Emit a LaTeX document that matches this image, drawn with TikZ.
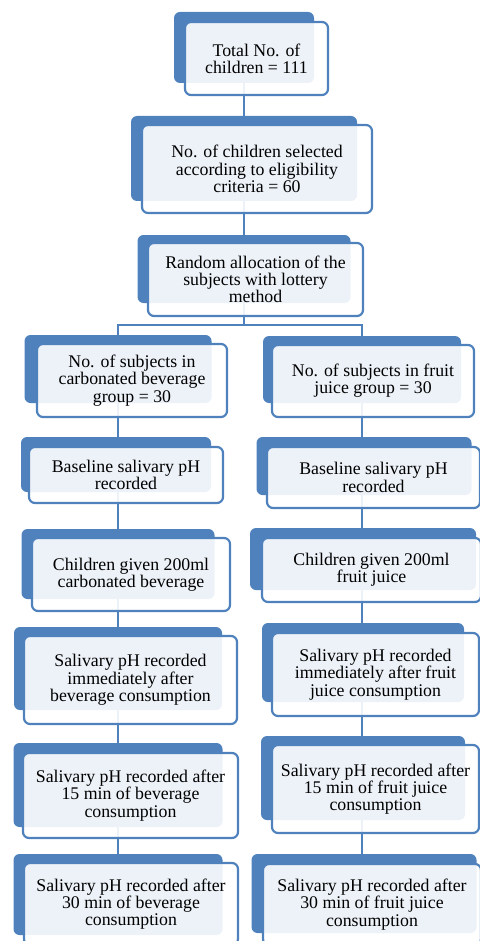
\documentclass[tikz,border=0pt]{standalone}
\usepackage{fontspec}
\setmainfont{Liberation Serif}
\usetikzlibrary{backgrounds}
\definecolor{boxblue}{HTML}{4F81BD}
\tikzset{
  backbox/.style={fill=boxblue, rounded corners=6pt, inner sep=0pt},
  frontbox/.style={draw=boxblue, line width=2.2pt, fill=white, fill opacity=0.9, text opacity=1,
    rounded corners=6pt, align=center, inner sep=0pt,
    font=\fontsize{17.8}{17.3}\selectfont},
  conn/.style={draw=boxblue, line width=2.5pt}
}
\begin{document}
\begin{tikzpicture}[x=1pt,y=-1pt]
\useasboundingbox (0,0) rectangle (479,941);
% back boxes
\node[backbox, minimum width=140pt, minimum height=71pt] (b1) at (244,47.5) {};
\node[backbox, minimum width=226pt, minimum height=85pt] (b2) at (244,158.5) {};
\node[backbox, minimum width=213pt, minimum height=68pt] (b3) at (244,269) {};
\node[backbox, minimum width=187pt, minimum height=68pt] (bL1) at (118,369) {};
\node[backbox, minimum width=198pt, minimum height=67pt] (bR1) at (362,369.5) {};
\node[backbox, minimum width=190pt, minimum height=55pt] (bL2) at (116,464.5) {};
\node[backbox, minimum width=215pt, minimum height=58pt] (bR2) at (364,466) {};
\node[backbox, minimum width=193pt, minimum height=70pt] (bL3) at (118,564) {};
\node[backbox, minimum width=226pt, minimum height=62pt] (bR3) at (363,559) {};
\node[backbox, minimum width=208pt, minimum height=83pt] (bL4) at (118,668.5) {};
\node[backbox, minimum width=202pt, minimum height=79pt] (bR4) at (363,662.5) {};
\node[backbox, minimum width=209pt, minimum height=84pt] (bL5) at (118,785) {};
\node[backbox, minimum width=204pt, minimum height=84pt] (bR5) at (363,778) {};
\node[backbox, minimum width=209pt, minimum height=81pt] (bL6) at (118,894.5) {};
\node[backbox, minimum width=225pt, minimum height=79pt] (bR6) at (364,893.5) {};
% front boxes
\node[frontbox, minimum width=143pt, minimum height=73pt] (f1) at (256.5,58.5) {Total No. of\\children = 111};
\node[frontbox, minimum width=230pt, minimum height=88pt] (f2) at (257,169) {No. of children selected\\according to eligibility\\criteria = 60};
\node[frontbox, minimum width=215pt, minimum height=73pt] (f3) at (255.5,279.5) {Random allocation of the\\subjects with lottery\\method};
\node[frontbox, minimum width=190pt, minimum height=73pt] (fL1) at (132,380.5) {No. of subjects in\\carbonated beverage\\group = 30};
\node[frontbox, minimum width=202pt, minimum height=72pt] (fR1) at (373,381) {No. of subjects in fruit\\juice group = 30};
\node[frontbox, minimum width=194pt, minimum height=56pt] (fL2) at (126,475) {Baseline salivary pH\\recorded};
\node[frontbox, minimum width=213pt, minimum height=61pt] (fR2) at (373.5,477.5) {Baseline salivary pH\\recorded};
\node[frontbox, minimum width=198pt, minimum height=73pt] (fL3) at (131,574.5) {Children given 200ml\\carbonated beverage};
\node[frontbox, minimum width=219pt, minimum height=64pt] (fR3) at (371.5,570) {Children given 200ml\\fruit juice};
\node[frontbox, minimum width=213pt, minimum height=88pt] (fL4) at (130.5,680) {Salivary pH recorded\\immediately after\\beverage consumption};
\node[frontbox, minimum width=207pt, minimum height=83pt] (fR4) at (375.5,674.5) {Salivary pH recorded\\immediately after fruit\\juice consumption};
\node[frontbox, minimum width=215pt, minimum height=85pt] (fL5) at (130.5,795.5) {Salivary pH recorded after\\15 min of beverage\\consumption};
\node[frontbox, minimum width=207pt, minimum height=88pt] (fR5) at (375.5,789) {Salivary pH recorded after\\15 min of fruit juice\\consumption};
\node[frontbox, minimum width=214pt, minimum height=82pt] (fL6) at (131,904) {Salivary pH recorded after\\30 min of beverage\\consumption};
\node[frontbox, minimum width=218pt, minimum height=81pt] (fR6) at (372,904.5) {Salivary pH recorded after\\30 min of fruit juice\\consumption};
\coordinate (split) at (244,325);
\begin{pgfonlayer}{background}
\draw[conn] (b1.center) -- (b2.center) -- (b3.center) -- (split);
\draw[conn] (split) -| (bL1.center);
\draw[conn] (split) -| (bR1.center);
\draw[conn] (bL1.center) -- (bL1.center |- bL6.center);
\draw[conn] (bR1.center) -- (bR1.center |- bR6.center);
\end{pgfonlayer}
\end{tikzpicture}
\end{document}
